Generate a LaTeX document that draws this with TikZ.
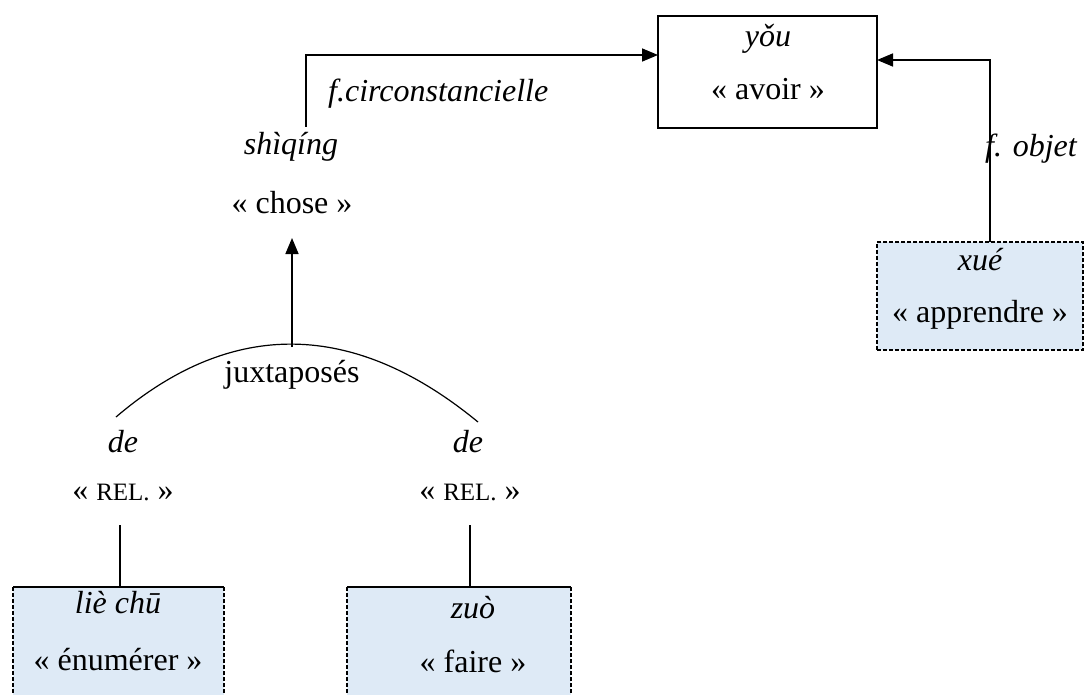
\documentclass[tikz,border=0pt]{standalone}
\usepackage{fontspec}
\setmainfont{Liberation Serif}
\usetikzlibrary{arrows.meta}
\definecolor{boxblue}{RGB}{222,234,246}
\tikzset{
  txt/.style={anchor=base, inner sep=0pt, font=\fontsize{32}{38}\selectfont},
  itxt/.style={txt, font=\fontsize{32}{38}\selectfont\itshape},
  conn/.style={line width=1.6pt},
  arr/.style={conn, -{Triangle[length=16pt,width=13pt]}},
  solidbox/.style={draw, line width=1.8pt, rectangle, inner sep=0pt},
  dashbox/.style={draw, line width=1.8pt, rectangle, inner sep=0pt, fill=boxblue, dash pattern=on 4pt off 2pt}
}
\newcommand{\rel}{{\fontsize{25}{30}\selectfont REL.}}
\begin{document}
\begin{tikzpicture}[x=1pt,y=-1pt]
\useasboundingbox (0,0) rectangle (1086,695);
% boxes
\node[solidbox, minimum width=219pt, minimum height=112pt] (you) at (767.5,72) {};
\node[dashbox, minimum width=206pt, minimum height=108pt] (xuebox) at (980,296) {};
% bottom boxes (cut by page edge)
\fill[boxblue] (13,587) rectangle (224,720);
\draw[line width=1.8pt] (13,587) -- (224,587);
\draw[line width=1.8pt, dash pattern=on 4pt off 2pt] (13,587) -- (13,720) (224,587) -- (224,720);
\coordinate (liebox) at (118,587);
\fill[boxblue] (347,587) rectangle (571,720);
\draw[line width=1.8pt] (347,587) -- (571,587);
\draw[line width=1.8pt, dash pattern=on 4pt off 2pt] (347,587) -- (347,720) (571,587) -- (571,720);
\coordinate (zuobox) at (470,587);
% texts
\node[itxt] (youA) at (768,47) {yǒu};
\node[txt] (youB) at (768,100) {« avoir »};
\node[itxt] (xueA) at (980,270) {xué};
\node[txt] (xueB) at (980,322) {« apprendre »};
\node[itxt] (shiqing) at (291,155) {shìqíng};
\node[txt] (chose) at (292,213) {« chose »};
\node[txt] (juxt) at (292,382) {juxtaposés};
\node[itxt] (deL) at (123,452) {de};
\node[itxt] (deR) at (468,452) {de};
\node[txt] (relL) at (123,500) {« \rel{} »};
\node[txt] (relR) at (470,500) {« \rel{} »};
\node[itxt] (lie) at (118,613) {liè chū};
\node[txt] (enum) at (118,670) {« énumérer »};
\node[itxt] (zuo) at (473,618) {zuò};
\node[txt] (faire) at (473,672) {« faire »};
\node[itxt, anchor=base west] (fcirc) at (328,102) {f.circonstancielle};
\node[itxt, anchor=base west] (fobj) at (985,157) {f. objet};
% connectors
\coordinate (c1) at (306,127);
\coordinate (youL) at (658,55);
\draw[arr] (c1) |- (youL);
\coordinate (c2) at (990,242);
\coordinate (youR) at (877,60);
\draw[arr] (c2) |- (youR);
\coordinate (arcTop) at (292,347);
\coordinate (choseB) at (292,238);
\draw[arr] (arcTop) -- (choseB);
\coordinate (arcL) at (116,417);
\coordinate (arcR) at (478,422);
\draw[line width=1.2pt] (arcL) .. controls (232,318) and (354,320) .. (arcR);
\coordinate (rL) at (120,525);
\coordinate (rR) at (470,525);
\draw[conn] (rL) -- (liebox -| rL);
\draw[conn] (rR) -- (zuobox);
\end{tikzpicture}
\end{document}
